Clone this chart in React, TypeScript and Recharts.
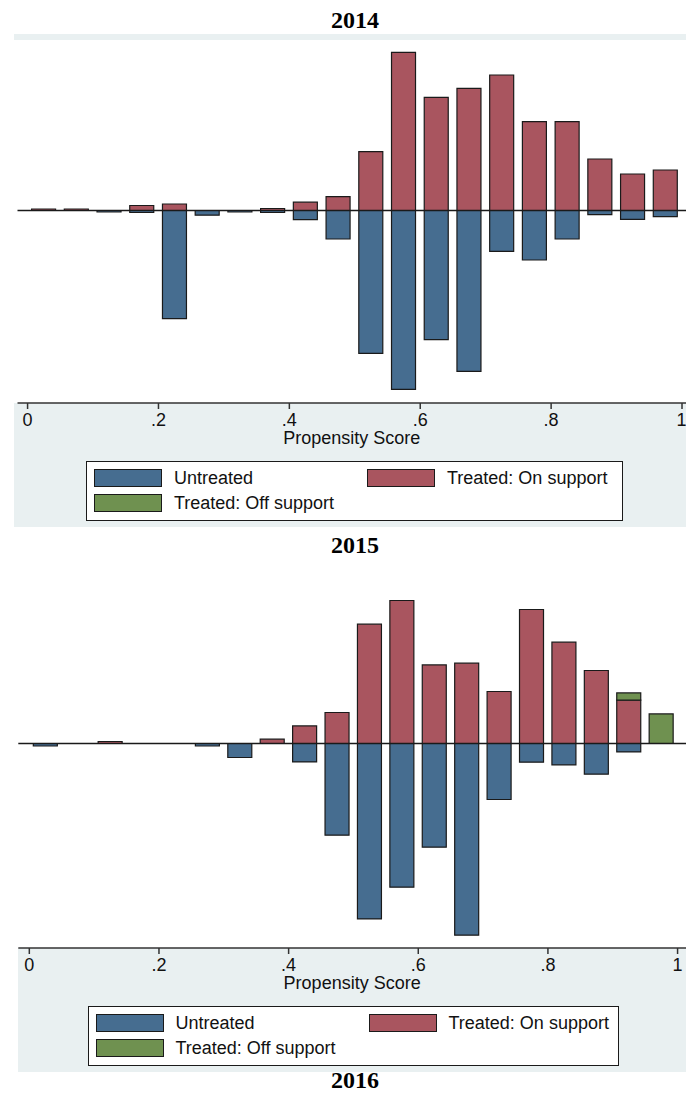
import { BarChart, Bar, XAxis, YAxis, ReferenceLine, Legend } from "recharts";

// propensity score bins (width .05), bar centres
const binMid = [
  0.025, 0.075, 0.125, 0.175, 0.225, 0.275, 0.325, 0.375, 0.425, 0.475,
  0.525, 0.575, 0.625, 0.675, 0.725, 0.775, 0.825, 0.875, 0.925, 0.975,
];

const xTicks = [0, 0.2, 0.4, 0.6, 0.8, 1];
const xTickLabels = ["0", ".2", ".4", ".6", ".8", "1"];

const seriesNames = ["Untreated", "Treated: On support", "Treated: Off support"];
const seriesColors = ["#466d90", "#a9555f", "#6f9150"];

// 2014 (untreated drawn below the zero line)
const untreated2014 = [0, 0, 0.15, 0.2, 10.82, 0.47, 0.15, 0.2, 0.92, 2.85, 14.28, 17.88, 12.92, 16.08, 4.08, 4.95, 2.85, 0.42, 0.88, 0.62];
const treatedOn2014 = [0.15, 0.15, 0, 0.5, 0.65, 0, 0, 0.2, 0.83, 1.38, 5.88, 15.82, 11.32, 12.22, 13.55, 8.88, 8.88, 5.15, 3.65, 4.05];
const treatedOff2014 = [0, 0, 0, 0, 0, 0, 0, 0, 0, 0, 0, 0, 0, 0, 0, 0, 0, 0, 0, 0];

// 2015
const untreated2015 = [0.25, 0, 0, 0, 0, 0.25, 1.4, 0, 1.84, 9.17, 17.54, 14.37, 10.37, 19.17, 5.6, 1.87, 2.14, 3.07, 0.84, 0];
const treatedOn2015 = [0, 0, 0.2, 0, 0, 0, 0, 0.43, 1.76, 3.1, 11.93, 14.3, 7.86, 8.03, 5.2, 13.4, 10.13, 7.3, 4.33, 0];
const treatedOff2015 = [0, 0, 0, 0, 0, 0, 0, 0, 0, 0, 0, 0, 0, 0, 0, 0, 0, 0, 0.73, 2.96];

const FONT = "'Liberation Sans', Arial, sans-serif";
const INK = "#1a1a1a";
const GREY = "#e9f0f1";

function buildRows(untreated: number[], on: number[], off: number[]) {
  return binMid.map((x, i) => ({
    x,
    untreated: -untreated[i],
    on: on[i],
    off: off[i],
  }));
}

function LegendBox({ width }: { width: number }) {
  const spots = [
    [7, 7],
    [280, 7],
    [7, 32],
  ];
  return (
    <div
      style={{
        position: "relative",
        width,
        height: 60,
        boxSizing: "border-box",
        border: `1.5px solid ${INK}`,
        background: "#fff",
        fontFamily: FONT,
        fontSize: 18,
        color: "#111",
      }}
    >
      {seriesNames.map((n, i) => (
        <div
          key={n}
          style={{
            position: "absolute",
            left: spots[i][0],
            top: spots[i][1],
            height: 18,
            display: "flex",
            alignItems: "center",
          }}
        >
          <span
            style={{
              display: "inline-block",
              width: 68,
              height: 18,
              boxSizing: "border-box",
              background: seriesColors[i],
              border: `1.5px solid ${INK}`,
            }}
          />
          <span style={{ marginLeft: 12, whiteSpace: "nowrap" }}>{n}</span>
        </div>
      ))}
    </div>
  );
}

type PanelProps = {
  rows: ReturnType<typeof buildRows>;
  top: number;
  height: number;
  plotTop: number;
  left: number;
  xDomain: [number, number];
  yDomain: [number, number];
  legendTop: number;
  legendLeft: number;
  legendWidth: number;
};

function Panel(p: PanelProps) {
  return (
    <div style={{ position: "absolute", left: 0, top: p.top }}>
      <BarChart
        width={686}
        height={p.height}
        data={p.rows}
        stackOffset="sign"
        barSize={24}
        margin={{ top: p.plotTop, left: p.left, right: 0, bottom: 100 }}
        style={{ fontFamily: FONT }}
      >
        <XAxis
          dataKey="x"
          type="number"
          domain={p.xDomain}
          allowDataOverflow
          ticks={xTicks}
          tickFormatter={(v: number) => xTickLabels[xTicks.indexOf(v)] ?? String(v)}
          height={24}
          tickSize={6}
          tickMargin={4}
          stroke="#333"
          strokeWidth={1.5}
          tick={{ fill: "#111", fontSize: 18, fontFamily: FONT }}
          label={{ value: "Propensity Score", position: "bottom", offset: 4, fill: "#111", fontSize: 18, fontFamily: FONT }}
        />
        <YAxis
          type="number"
          domain={p.yDomain}
          allowDataOverflow
          width={0}
          tick={false}
          tickLine={false}
          stroke={INK}
          strokeWidth={1.5}
        />
        <Bar dataKey="untreated" name={seriesNames[0]} stackId="s" fill={seriesColors[0]} stroke={INK} strokeWidth={1.2} isAnimationActive={false} />
        <Bar dataKey="on" name={seriesNames[1]} stackId="s" fill={seriesColors[1]} stroke={INK} strokeWidth={1.2} isAnimationActive={false} />
        <Bar dataKey="off" name={seriesNames[2]} stackId="s" fill={seriesColors[2]} stroke={INK} strokeWidth={1.2} isAnimationActive={false} />
        <ReferenceLine y={0} stroke={INK} strokeWidth={1.3} />
        <Legend
          layout="horizontal"
          verticalAlign="middle"
          align="center"
          wrapperStyle={{ position: "absolute", left: p.legendLeft, top: p.legendTop, width: p.legendWidth, height: 60 }}
          content={() => <LegendBox width={p.legendWidth} />}
        />
      </BarChart>
    </div>
  );
}

const titleStyle = (y: number): React.CSSProperties => ({
  position: "absolute",
  left: 0,
  width: 710,
  top: y - 13,
  textAlign: "center",
  fontFamily: "'Liberation Serif', 'Times New Roman', serif",
  fontWeight: "bold",
  fontSize: 24,
  lineHeight: "26px",
  color: "#000",
});

export default function App() {
  return (
    <div style={{ position: "absolute", left: 0, top: 0, width: 686, height: 1095, overflow: "hidden", background: "#fff" }}>
      {/* 2014 graph region */}
      <div style={{ position: "absolute", left: 14, top: 34, width: 672, height: 493, background: GREY }} />
      <div style={{ position: "absolute", left: 14, top: 40, width: 672, height: 363, background: "#fff" }} />
      {/* 2015 graph region (top cropped) */}
      <div style={{ position: "absolute", left: 17.5, top: 948, width: 668.5, height: 124, background: GREY }} />

      <div style={titleStyle(20)}>2014</div>
      <Panel
        rows={buildRows(untreated2014, treatedOn2014, treatedOff2014)}
        top={0}
        height={527}
        plotTop={40}
        left={17.5}
        xDomain={[-0.0154, 1.0061]}
        yDomain={[-19.25, 17.05]}
        legendTop={461}
        legendLeft={86}
        legendWidth={537}
      />

      <div style={titleStyle(545)}>2015</div>
      <Panel
        rows={buildRows(untreated2015, treatedOn2015, treatedOff2015)}
        top={560}
        height={512}
        plotTop={28}
        left={18.3}
        xDomain={[-0.017, 1.013]}
        yDomain={[-20.45, 15.55]}
        legendTop={446}
        legendLeft={87.5}
        legendWidth={531}
      />

      <div style={titleStyle(1080)}>2016</div>
    </div>
  );
}
